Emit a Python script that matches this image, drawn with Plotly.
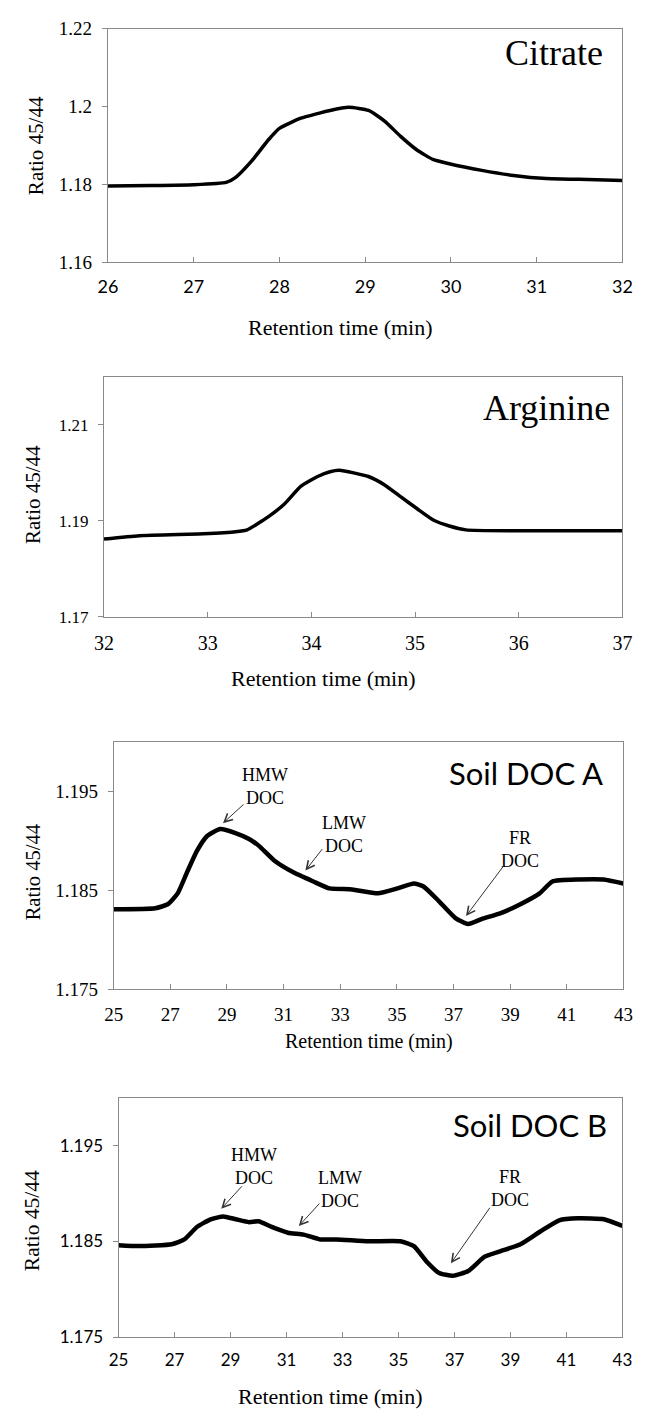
import plotly.graph_objects as go

W, H = 647, 1421

# ---------------- data ----------------
citrate_t = [26.0, 26.5, 27.0, 27.38, 27.49, 27.68, 27.87, 28.0, 28.25, 28.59, 28.81,
             29.04, 29.23, 29.41, 29.6, 29.79, 29.98, 30.36, 30.73, 31.11, 31.49, 32.0]
citrate_r = [1.1796, 1.1797, 1.1799, 1.1805, 1.1818, 1.1861, 1.1914, 1.1944, 1.1970, 1.1990, 1.1998,
             1.1990, 1.1962, 1.1924, 1.1889, 1.1864, 1.1853, 1.1836, 1.1823, 1.1815, 1.1813, 1.1810]

arginine_t = [32.0, 32.34, 32.96, 33.27, 33.38, 33.59, 33.74, 33.9, 34.06, 34.18, 34.27,
              34.55, 34.71, 34.86, 35.02, 35.18, 35.33, 35.49, 35.95, 36.5, 37.0]
arginine_r = [1.1862, 1.1869, 1.1873, 1.1877, 1.1881, 1.1909, 1.1935, 1.1972, 1.1992, 1.2002, 1.2005,
              1.1992, 1.1974, 1.1950, 1.1925, 1.1901, 1.1889, 1.1881, 1.1879, 1.1879, 1.1879]

docA_t = [25.0, 26.47, 26.91, 27.26, 27.6, 27.94, 28.3, 28.76, 29.3, 29.78, 30.13, 30.68,
          31.36, 32.05, 32.62, 33.42, 34.33, 35.02, 35.6, 35.94, 36.49, 37.07, 37.51,
          37.99, 38.67, 39.36, 40.04, 40.49, 41.41, 42.3, 43.0]
docA_r = [1.1831, 1.1832, 1.1836, 1.1847, 1.1869, 1.1890, 1.1905, 1.1912, 1.1908, 1.1902, 1.1895, 1.1880,
          1.1868, 1.1859, 1.1852, 1.1851, 1.1847, 1.1852, 1.1857, 1.1854, 1.1839, 1.1822, 1.1816,
          1.1821, 1.1827, 1.1836, 1.1847, 1.1859, 1.1861, 1.1861, 1.1857]

docB_t = [25.0, 25.73, 26.9, 27.35, 27.8, 28.29, 28.74, 29.19, 29.66, 30.0, 30.47, 31.05,
          31.61, 32.2, 32.78, 33.93, 35.07, 35.55, 36.0, 36.45, 36.94, 37.49, 38.08, 38.67,
          39.36, 40.05, 40.74, 41.43, 42.34, 43.0]
docB_r = [1.1846, 1.1845, 1.1847, 1.1852, 1.1865, 1.1873, 1.1876, 1.1873, 1.1870, 1.1871, 1.1865, 1.1859,
          1.1857, 1.1852, 1.1852, 1.1850, 1.1850, 1.1845, 1.1829, 1.1817, 1.1814, 1.1819, 1.1834, 1.1840,
          1.1847, 1.1860, 1.1872, 1.1874, 1.1873, 1.1866]

# tick values
x1_ticks = [26, 27, 28, 29, 30, 31, 32]
y1_ticks = [1.16, 1.18, 1.2, 1.22]
x2_ticks = [32, 33, 34, 35, 36, 37]
y2_ticks = [1.17, 1.19, 1.21]
x34_ticks = [25, 27, 29, 31, 33, 35, 37, 39, 41, 43]
y34_ticks = [1.175, 1.185, 1.195]

# peak labels (text, arrow tip x, arrow tip y)
docA_peaks = [("HMW<br>DOC", 28.86, 1.1918), ("LMW<br>DOC", 31.77, 1.1870), ("FR<br>DOC", 37.44, 1.1824)]
docB_peaks = [("HMW<br>DOC", 28.67, 1.1884), ("LMW<br>DOC", 31.44, 1.1866), ("FR<br>DOC", 36.87, 1.1827)]

# ---------------- helpers ----------------
def fx(p):
    return p / W

def fy(p):
    return 1 - p / H

SERIF = "Liberation Serif"
SANS = "Lato"
AXCOL = "#8a8a8a"

fig = go.Figure()

panels = [
    # (t, r, xdom px, ydom px, xrange, yrange, xticks, yticks, xfont, yfont, lw)
    (citrate_t, citrate_r, (101, 632), (19, 256), [26, 32], [1.16, 1.22], x1_ticks, y1_ticks,
     dict(family=SANS, size=18), dict(family=SERIF, size=19), 3.5),
    (arginine_t, arginine_r, (97, 632), (372, 616), [32, 37], [1.17, 1.22], x2_ticks, y2_ticks,
     dict(family=SERIF, size=20), dict(family=SERIF, size=17), 3.5),
    (docA_t, docA_r, (107, 633), (743, 994), [25, 43], [1.175, 1.2], x34_ticks, y34_ticks,
     dict(family=SERIF, size=19), dict(family=SERIF, size=19), 4.5),
    (docB_t, docB_r, (112, 632), (1104, 1347), [25, 43], [1.175, 1.2], x34_ticks, y34_ticks,
     dict(family=SANS, size=17), dict(family=SANS, size=17), 4.5),
]

layout = {}
for i, (t, r, xd, yd, xr, yr, xt, yt, xf, yf, lw) in enumerate(panels, start=1):
    sfx = "" if i == 1 else str(i)
    fig.add_trace(go.Scatter(x=t, y=r, mode="lines",
                             line=dict(color="black", width=lw, shape="spline", smoothing=0.5),
                             xaxis="x" + sfx, yaxis="y" + sfx, showlegend=False, hoverinfo="skip"))
    xf = dict(xf, color="black")
    yf = dict(yf, color="black")
    layout["xaxis" + sfx] = dict(domain=[fx(xd[0]), fx(xd[1])], range=xr, anchor="y" + sfx,
                                 tickvals=xt, ticks="inside", ticklen=5, tickcolor=AXCOL,
                                 showline=True, linecolor=AXCOL, linewidth=1, mirror=True,
                                 showgrid=False, zeroline=False, tickfont=xf, ticklabelstandoff=8)
    layout["yaxis" + sfx] = dict(domain=[fy(yd[1]), fy(yd[0])], range=yr, anchor="x" + sfx,
                                 tickvals=yt, ticks="outside", ticklen=5, tickcolor=AXCOL,
                                 showline=True, linecolor=AXCOL, linewidth=1, mirror=True,
                                 showgrid=False, zeroline=False, tickfont=yf, ticklabelstandoff=6)

annotations = []

def txt(text, x, y, font, xanchor="center", yanchor="middle", angle=0):
    annotations.append(dict(text=text, x=fx(x), y=fy(y), xref="paper", yref="paper",
                            showarrow=False, xanchor=xanchor, yanchor=yanchor,
                            textangle=angle, font=font))

# y axis titles
for (x, y, s) in [(27, 138, 21), (23, 492, 21), (24, 875, 20.5), (23, 1229, 21.5)]:
    txt("Ratio 45/44", x, y, dict(family=SERIF, size=s, color="black"), angle=-90)
# x axis titles
for (x, y, s) in [(341, 322, 22), (323, 679, 22), (370, 1047, 20), (331, 1407, 22)]:
    txt("Retention time (min)", x, y, dict(family=SERIF, size=s, color="black"))

# panel names
txt("Citrate", 614, 44, dict(family=SERIF, size=36, color="black"), xanchor="right")
txt("Arginine", 621, 404, dict(family=SERIF, size=36, color="black"), xanchor="right")
txt("Soil DOC A", 614, 774, dict(family=SANS, size=31, color="black"), xanchor="right")
txt("Soil DOC B", 618, 1132, dict(family=SANS, size=31, color="black"), xanchor="right")

# peak labels text positions (px) and arrow tails (px offsets)
docA_text_pos = [(263, 788), (345, 837), (526, 852)]
docA_tail = [(22, -20), (18, -23), (39, -52)]
docB_text_pos = [(252, 1174), (341, 1197), (516, 1196)]
docB_tail = [(22, -24), (22, -24), (40, -57)]

for peaks, tpos, tails, ax_s in [(docA_peaks, docA_text_pos, docA_tail, "3"),
                                  (docB_peaks, docB_text_pos, docB_tail, "4")]:
    for (label, px_, py_), (tx, ty), (dx, dy) in zip(peaks, tpos, tails):
        txt(label, tx, ty, dict(family=SERIF, size=18, color="black"))
        annotations.append(dict(text="", x=px_, y=py_, xref="x" + ax_s, yref="y" + ax_s,
                                showarrow=True, ax=dx, ay=dy, axref="pixel", ayref="pixel",
                                arrowhead=5, arrowsize=1.6, arrowwidth=1, arrowcolor="#333333",
                                standoff=0, startstandoff=0))

fig.update_layout(width=W, height=H, margin=dict(l=0, r=0, t=0, b=0),
                  paper_bgcolor="white", plot_bgcolor="white",
                  annotations=annotations, **layout)

fig.write_html("out.html")
